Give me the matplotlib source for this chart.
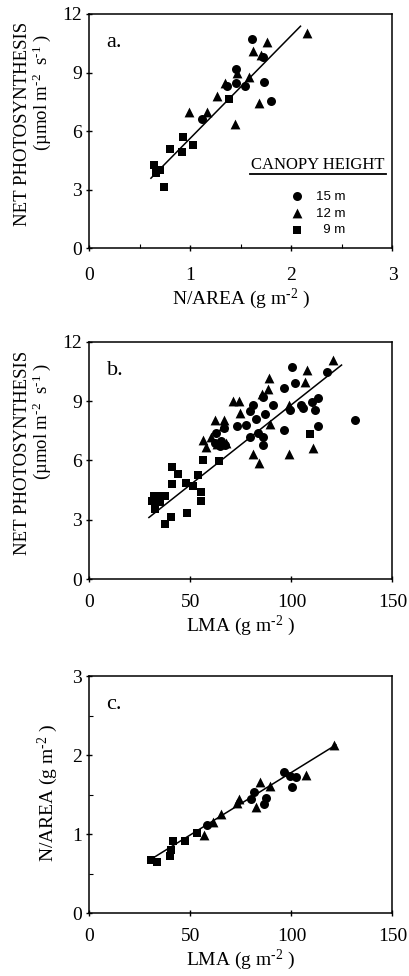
import numpy as np
import matplotlib
matplotlib.use("Agg")
import matplotlib.pyplot as plt

plt.rcParams["font.family"] = ["Liberation Serif", "DejaVu Serif"]
plt.rcParams["mathtext.fontset"] = "custom"
plt.rcParams["mathtext.rm"] = "Liberation Serif"
plt.rcParams["mathtext.it"] = "Liberation Serif:italic"

# --- panel a: net photosynthesis vs N/area ---
a_15_x = [1.61, 1.45, 1.36, 1.45, 1.54, 1.72, 1.73, 1.80, 1.12]
a_15_y = [10.70, 9.18, 8.31, 8.45, 8.31, 9.81, 8.53, 7.54, 6.62]
a_12_x = [2.15, 1.76, 1.62, 1.70, 1.46, 1.58, 1.34, 1.26, 1.16, 0.99, 1.68, 1.44]
a_12_y = [11.04, 10.55, 10.10, 9.90, 8.96, 8.75, 8.45, 7.80, 7.00, 7.00, 7.42, 6.35]
a_9_x = [1.38, 0.93, 0.80, 1.03, 0.92, 0.64, 0.70, 0.66, 0.74]
a_9_y = [7.66, 5.68, 5.09, 5.29, 4.91, 4.27, 4.01, 3.84, 3.16]
a_fit = (5.26, 0.38)
a_fit_x = [0.61, 2.09]

# --- panel b: net photosynthesis vs LMA ---
b_15_x = [100.2, 96.3, 102.0, 117.7, 85.7, 81.1, 79.4, 82.7, 86.9, 91.0, 99.2,
          104.5, 105.5, 110.0, 113.2, 111.9, 113.1, 131.5, 96.3, 73.2, 77.3,
          66.8, 62.6, 79.4, 83.6, 85.7, 86.0, 64.6, 62.0, 65.0, 67.0]
b_15_y = [10.74, 9.65, 9.89, 10.45, 9.22, 8.78, 8.49, 8.10, 8.37, 8.78, 8.57,
          8.78, 8.64, 8.95, 9.14, 8.57, 7.76, 8.06, 7.53, 7.72, 7.79,
          7.64, 7.38, 7.18, 7.41, 7.18, 6.78, 6.73, 6.90, 7.00, 6.80]
b_12_x = [120.7, 107.5, 106.7, 88.8, 88.5, 85.5, 71.2, 74.2, 74.5, 62.1, 66.7,
          66.3, 56.4, 57.7, 67.6, 89.3, 98.9, 80.8, 84.1, 98.7, 110.8, 63.0, 60.0]
b_12_y = [11.08, 10.58, 9.97, 10.16, 9.63, 9.34, 9.00, 9.00, 8.40, 8.03, 8.03,
          7.76, 7.04, 6.70, 6.90, 7.86, 8.81, 6.32, 5.88, 6.32, 6.61, 6.83, 7.20]
b_9_x = [109.1, 56.4, 64.3, 53.6, 40.7, 44.0, 41.0, 47.8, 51.4, 55.1, 55.1,
         30.8, 34.1, 37.5, 32.5, 40.3, 37.7, 48.1, 32.0, 35.0]
b_9_y = [7.35, 6.02, 5.98, 5.28, 5.68, 5.33, 4.79, 4.87, 4.70, 4.40, 3.97,
         3.97, 4.23, 4.23, 3.55, 3.12, 2.78, 3.37, 4.23, 3.89]
b_fit = (0.0808, 0.736)
b_fit_x = [29.5, 124.8]

# --- panel c: N/area vs LMA ---
c_15_x = [58.3, 81.5, 80.1, 87.6, 86.4, 96.4, 99.3, 102.5, 100.2]
c_15_y = [1.12, 1.53, 1.44, 1.46, 1.38, 1.79, 1.74, 1.72, 1.60]
c_12_x = [57.0, 61.3, 65.4, 74.0, 73.2, 84.3, 89.2, 82.6, 107.0, 120.9]
c_12_y = [0.99, 1.15, 1.25, 1.45, 1.39, 1.66, 1.61, 1.34, 1.75, 2.13]
c_9_x = [30.5, 33.4, 39.7, 40.4, 41.4, 47.2, 53.3]
c_9_y = [0.68, 0.65, 0.73, 0.80, 0.92, 0.92, 1.02]
c_fit = (0.0158, 0.202)
c_fit_x = [29.0, 122.0]

heights = ["15 m", "12 m", "  9 m"]
markers = ["o", "^", "s"]
msize = [42, 50, 40]

unit_sup = "$^{\\text{-2}}$"


def draw_panel(ax, xs, ys, fit, fit_x, xmax, ymax, yticks, letter):
    handles = []
    for x, y, m, s in zip(xs, ys, markers, msize):
        h = ax.scatter(x, y, marker=m, s=s, c="black", linewidths=0, zorder=3)
        handles.append(h)
    fx = np.array(fit_x)
    ax.plot(fx, fit[0] * fx + fit[1], color="black", lw=1.1, zorder=2)
    ax.set_xlim(0, xmax)
    ax.set_ylim(0, ymax)
    ax.set_yticks(yticks)
    for sp in ax.spines.values():
        sp.set_linewidth(1.1)
    ax.tick_params(direction="inout", length=5, width=1, labelsize=14)
    ax.tick_params(axis="y", pad=3)
    ax.tick_params(axis="x", pad=8)
    ax.tick_params(which="minor", direction="in", length=3, width=0.8)
    ax.text(0.057, 0.86, letter, transform=ax.transAxes, fontsize=16,
            ha="left", va="baseline")
    return handles


fig = plt.figure(figsize=(4.09, 9.76), dpi=100)
ax_a = fig.add_axes([0.2183, 0.7456, 0.7413, 0.2401])
ax_b = fig.add_axes([0.2183, 0.4065, 0.7413, 0.2434])
ax_c = fig.add_axes([0.2183, 0.0642, 0.7413, 0.2431])

hs = draw_panel(ax_a, [a_15_x, a_12_x, a_9_x], [a_15_y, a_12_y, a_9_y],
                a_fit, a_fit_x, 3, 12, [0, 3, 6, 9, 12], "a.")
ax_a.set_xticks([0, 1, 2, 3])
ax_a.set_xticks([0.5, 1.5, 2.5], minor=True)
ax_a.tick_params(axis="x", pad=11)
ax_a.set_xlabel("N/AREA (g m" + unit_sup + " )", fontsize=14, labelpad=2)

draw_panel(ax_b, [b_15_x, b_12_x, b_9_x], [b_15_y, b_12_y, b_9_y],
           b_fit, b_fit_x, 150, 12, [0, 3, 6, 9, 12], "b.")
ax_b.set_xticks([0, 50, 100, 150])
ax_b.set_xlabel("LMA (g m" + unit_sup + " )", fontsize=14, labelpad=2)

draw_panel(ax_c, [c_15_x, c_12_x, c_9_x], [c_15_y, c_12_y, c_9_y],
           c_fit, c_fit_x, 150, 3, [0, 1, 2, 3], "c.")
ax_c.set_xticks([0, 50, 100, 150])
ax_c.set_yticks([0.5, 1.5, 2.5], minor=True)
ax_c.set_xlabel("LMA (g m" + unit_sup + " )", fontsize=14, labelpad=2)

for ax in (ax_a, ax_b):
    ax.text(-0.219, 0.53, "NET PHOTOSYNTHESIS", transform=ax.transAxes,
            rotation=90, ha="center", va="center", fontsize=13.5)
    ax.text(-0.156, 0.665,
            "(\u00b5mol m" + unit_sup + "  s$^{\\text{-1}}$ )",
            transform=ax.transAxes, rotation=90, ha="center", va="center",
            fontsize=13.5)
ax_c.text(-0.136, 0.507, "N/AREA (g m" + unit_sup + " )", transform=ax_c.transAxes,
          rotation=90, ha="center", va="center", fontsize=14)

# legend in panel a
ax_a.text(0.755, 0.337, "CANOPY HEIGHT", transform=ax_a.transAxes,
          ha="center", va="baseline", fontsize=12)
ax_a.plot([0.53, 0.98], [0.317, 0.317], transform=ax_a.transAxes,
          color="black", lw=1.3)
leg = ax_a.legend(hs, heights, loc="upper left", bbox_to_anchor=(0.64, 0.275),
                  frameon=False, borderpad=0, handlelength=1.0,
                  handletextpad=1.0, labelspacing=0.35,
                  prop={"family": "Liberation Sans", "size": 9.5})

fig.savefig("out.png", dpi=100)
